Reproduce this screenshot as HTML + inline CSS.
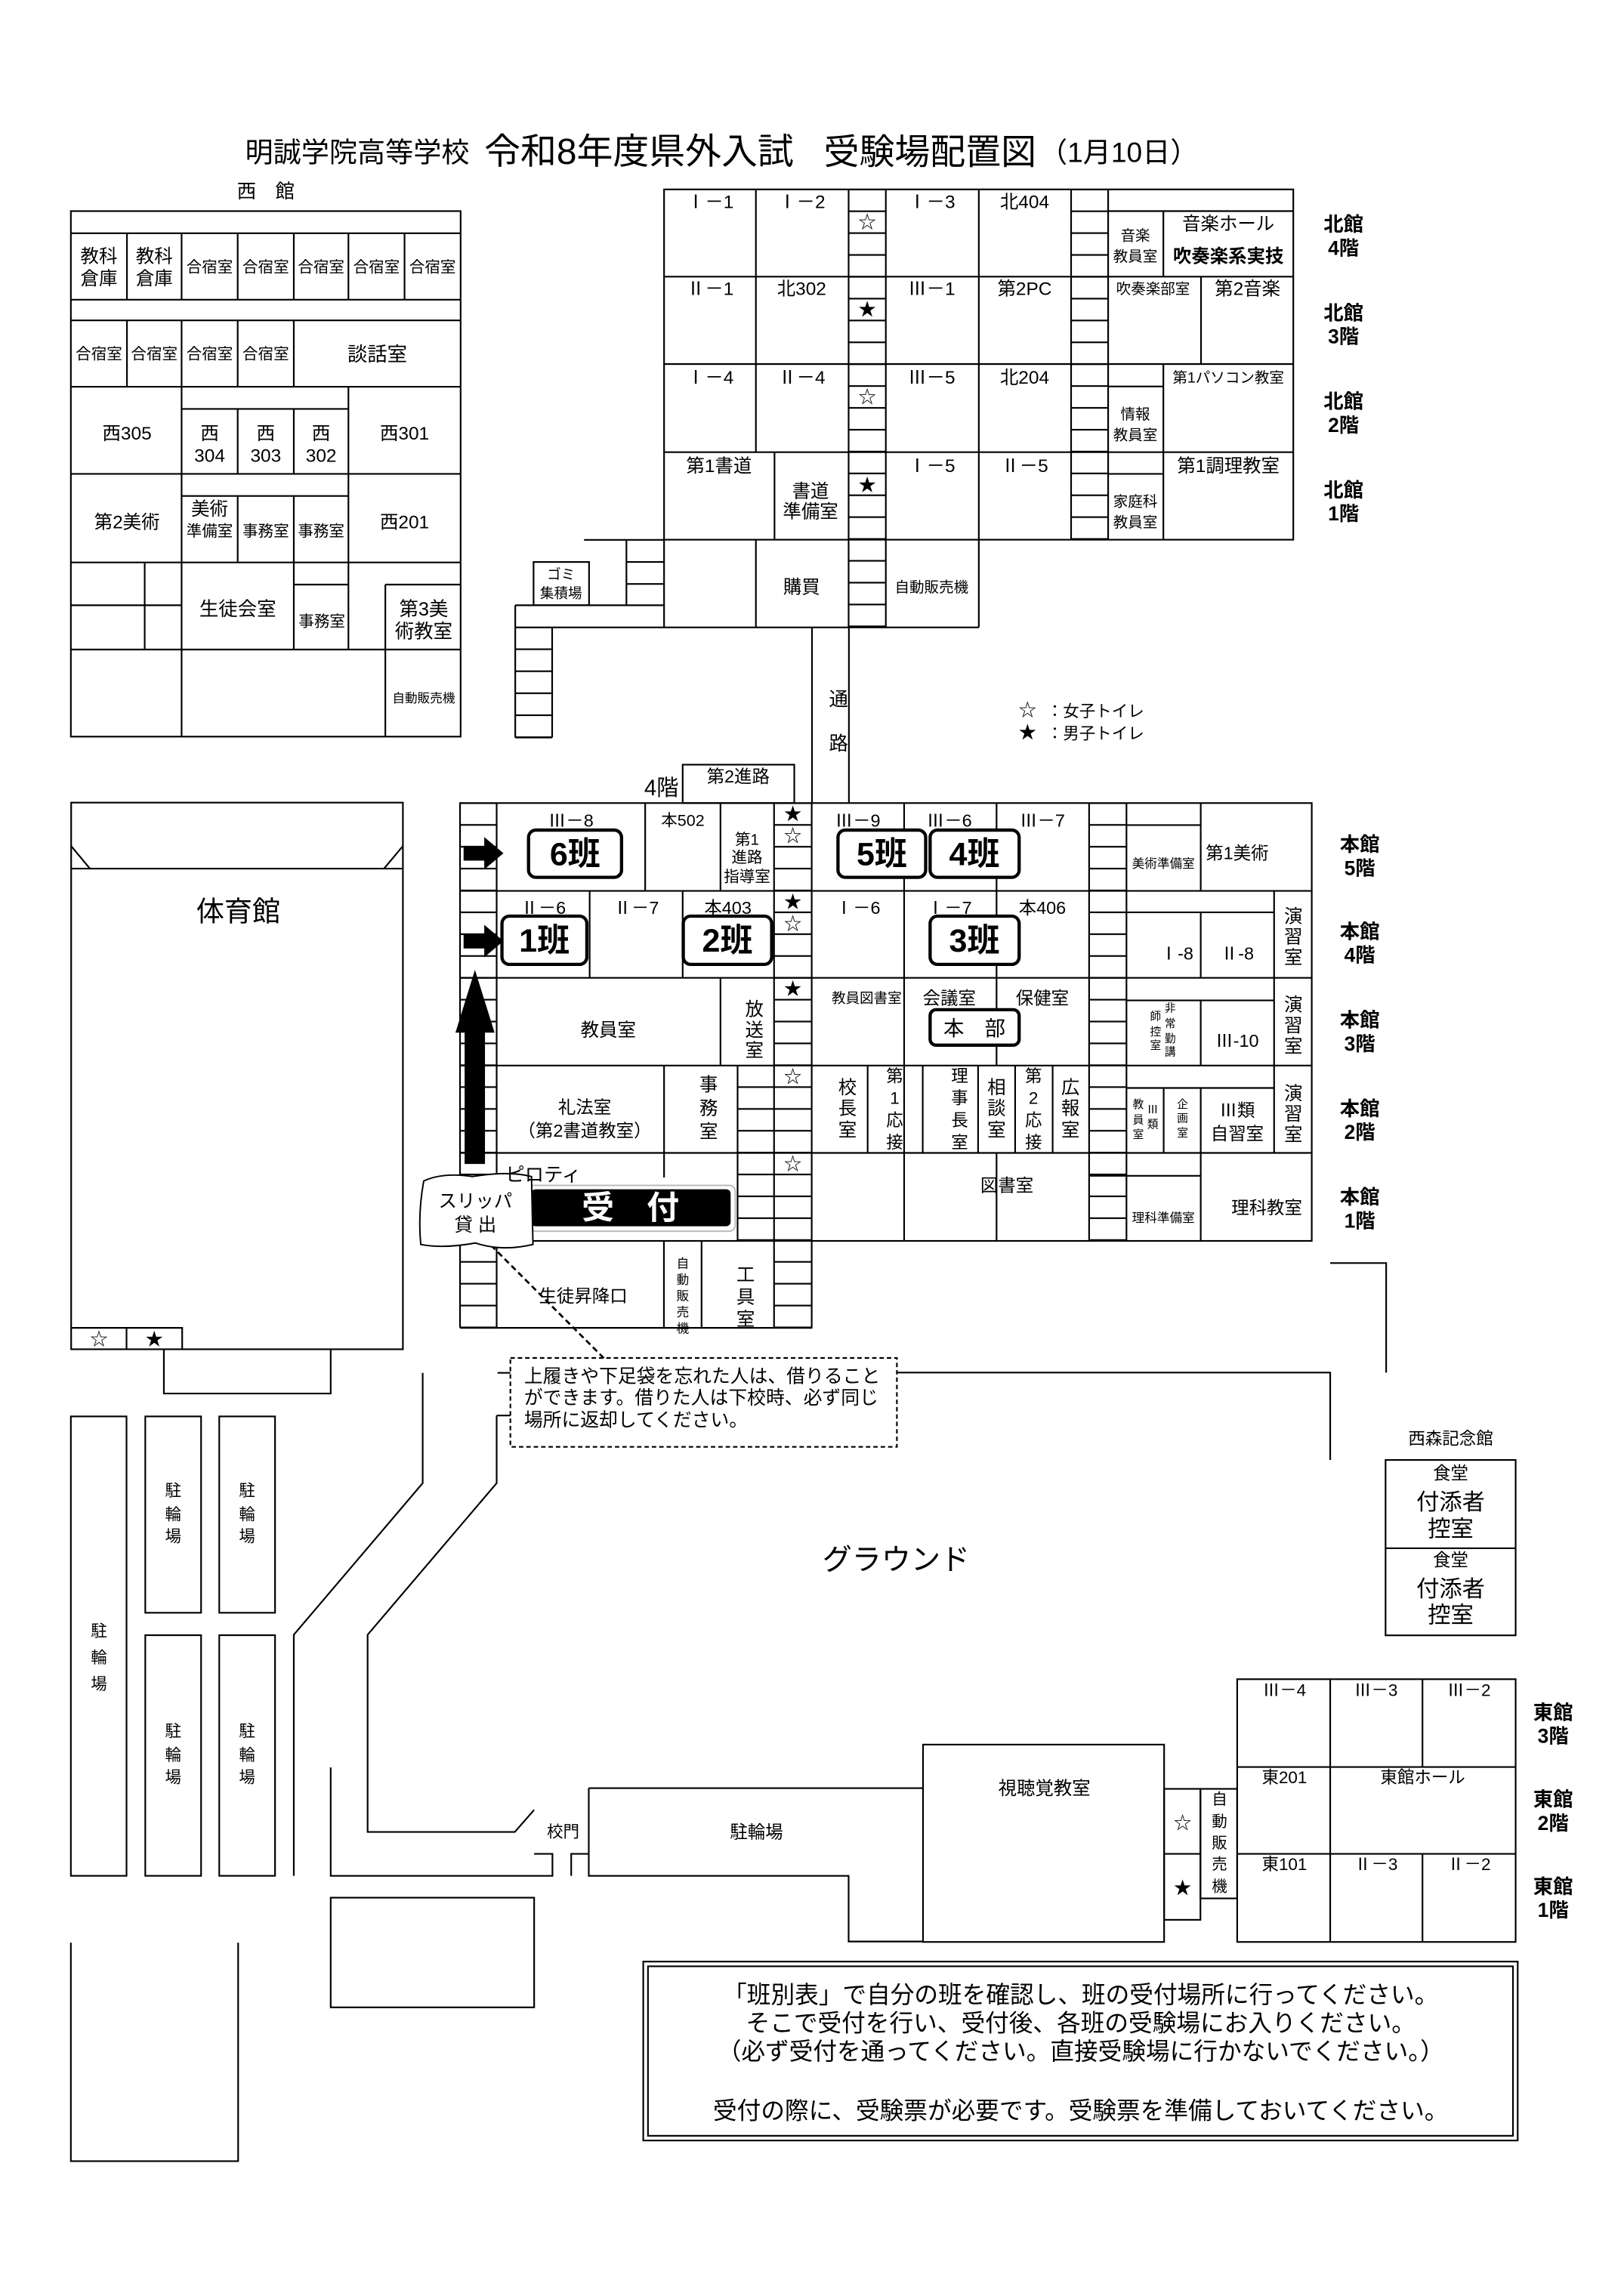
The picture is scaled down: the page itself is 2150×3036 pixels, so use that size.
<!DOCTYPE html>
<html><head><meta charset="utf-8"><style>
html,body{margin:0;padding:0;background:#fff}
svg{display:block}
.t{font-family:"Liberation Sans","Noto Sans CJK JP",sans-serif;text-anchor:middle;dominant-baseline:central;fill:#000}
.l{font-family:"Liberation Sans","Noto Sans CJK JP",sans-serif;dominant-baseline:central;fill:#000}
.b{font-weight:bold}
</style></head><body>
<svg width="2150" height="3036" viewBox="0 0 1100 1553.3" xmlns="http://www.w3.org/2000/svg">
<defs>
<pattern id="pn" patternUnits="userSpaceOnUse" x="0" y="128.3" width="50" height="14.8"><rect x="0" y="-0.55" width="50" height="1.1" fill="#000"/><rect x="0" y="14.25" width="50" height="1.1" fill="#000"/></pattern>
<pattern id="pm" patternUnits="userSpaceOnUse" x="0" y="544" width="50" height="14.8"><rect x="0" y="-0.55" width="50" height="1.1" fill="#000"/><rect x="0" y="14.25" width="50" height="1.1" fill="#000"/></pattern>
<pattern id="pl" patternUnits="userSpaceOnUse" x="0" y="410" width="50" height="14.9"><rect x="0" y="-0.55" width="50" height="1.1" fill="#000"/><rect x="0" y="14.35" width="50" height="1.1" fill="#000"/></pattern>
<marker id="ah" markerWidth="8" markerHeight="8" refX="6" refY="4" orient="auto" markerUnits="userSpaceOnUse"><path d="M0,0 L7,4 L0,8" fill="none" stroke="#000" stroke-width="1.2"/></marker>
</defs>
<rect width="1100" height="1553.3" fill="#fff"/>

<rect x="574.8" y="128.3" width="25.2" height="296.7" fill="url(#pn)"/>
<rect x="725.5" y="128.3" width="25.1" height="237.3" fill="url(#pn)"/>
<rect x="311.6" y="544" width="24.8" height="355.5" fill="url(#pm)"/>
<rect x="524.3" y="544" width="25.5" height="355.5" fill="url(#pm)"/>
<rect x="499.6" y="721.8" width="24.7" height="118.8" fill="url(#pm)"/>
<rect x="737.7" y="544" width="25.3" height="296.6" fill="url(#pm)"/>
<rect x="349" y="425" width="25" height="74.6" fill="url(#pl)"/>

<g fill="none" stroke="#000" stroke-width="1.1">
<rect x="48" y="143" width="264" height="356"/>
<path d="M48 158H312M48 203H312M48 217H312M48 262H312M48 321H312M48 381H312M48 440H312"/>
<path d="M86 158V203M123 158V203M161 158V203M199 158V203M236 158V203M274 158V203"/>
<path d="M86 217V262M123 217V262M161 217V262M199 217V262"/>
<path d="M123 262V381M236 262V381M123 277H236M161 277V321M199 277V321M123 336H236M161 336V381M199 336V381"/>
<path d="M98 381V440M123 381V499M199 381V440M236 381V440M261 396V499M48 410H123M199 396H236M261 396H312"/>

<rect x="449.8" y="128.3" width="426.2" height="237.3"/>
<path d="M449.8 187.4H876M449.8 246.6H876M449.8 306.3H876"/>
<path d="M512 128.3V306.3M524.6 306.3V365.6M574.8 128.3V425M600 128.3V425M663 128.3V425M725.5 128.3V365.6M750.6 128.3V365.6"/>
<path d="M750.6 143H876M788 143V187.4M813.5 187.4V246.6M750.6 261.8H788M788 246.6V365.6M750.6 321H788"/>
<path d="M449.8 365.6V425M512 365.6V425M349 425H663"/>
<path d="M395.6 365.7H449.8M424.3 365.7V410M424.3 380.7H449.8M424.3 395.6H449.8M349 410H449.8M349 410V499.6M374 425V499.6M349 499.6H374"/>
<rect x="361.4" y="380.7" width="37.6" height="29.3"/>
<path d="M550 425V544M575 425V544"/>
<rect x="462.4" y="518" width="75.6" height="26"/>

<rect x="311.6" y="544" width="576.9" height="296.6"/>
<path d="M311.6 603.5H888.5M311.6 662.4H888.5M311.6 721.8H888.5M311.6 781H888.5"/>
<path d="M336.4 544V899.5M311.6 840.6V899.5M311.6 899.5H550.2M449.7 840.6V899.5M475.2 840.6V899.5M524.3 544V899.5M549.8 544V899.5"/>
<path d="M437 544V603.5M488 544V603.5M488 662.4V721.8M399.4 603.5V662.4M462.4 603.5V662.4"/>
<path d="M612.4 544V840.6M675 544V721.8M675 781V840.6M737.7 544V840.6M763 544V840.6"/>
<path d="M813.3 544V603.5M813.3 618V662.4M813.3 677.7V721.8M813.3 737V840.6M863 603.5V781"/>
<path d="M763 558.9H813.3M763 618H863M763 677.7H863M763 737H863M737.7 796.5H813.3"/>
<path d="M449.8 721.8V797.6M499.6 721.8V840.6M587.7 721.8V781M625 721.8V781M662.5 721.8V781M687.6 721.8V781M713 721.8V781M788.2 737V781"/>
<path d="M901 855.6H938.9V929.8"/>
<path d="M607.5 929.8H901V989"/>

<rect x="48.2" y="543.7" width="224.7" height="370.3"/>
<path d="M48.2 588.4H272.9M48.2 573.1L60.9 588.4M272.9 573.1L260.1 588.4"/>
<path d="M48.2 899.5H123.4V914M85.7 899.5V914"/>
<path d="M111 914V944H224V914"/>

<rect x="48" y="959.5" width="37.7" height="311.2"/>
<rect x="98.4" y="959.5" width="37.8" height="133"/>
<rect x="148.5" y="959.5" width="37.8" height="133"/>
<rect x="98.4" y="1107.7" width="37.8" height="163"/>
<rect x="148.5" y="1107.7" width="37.8" height="163"/>
<path d="M48 1316V1464H161.3V1316"/>

<path d="M286.3 930V1004.7L199 1107.4V1270.7"/>
<path d="M336.4 958.9V1004.7L249 1107.4V1241H348.7L361.8 1226"/>
<path d="M337 930H345.7M336.4 958.9H345.7"/>
<path d="M224 1197.3V1270.7H374.2V1255.8H361.8"/>
<path d="M386.9 1270.7V1255.8H398.8M398.8 1211.3V1270.7H574.8V1315.2H625.2M398.8 1211.3H625.2"/>
<rect x="224" y="1285.5" width="137.8" height="74.3"/>

<rect x="625.2" y="1181.8" width="163.3" height="133.7"/>
<rect x="788.5" y="1211.8" width="24.6" height="88.7"/>
<path d="M788.5 1255.8H813.1"/>
<rect x="813.1" y="1211.8" width="24.9" height="74.2"/>
<rect x="838" y="1137.5" width="188.6" height="178"/>
<path d="M838 1197H1026.6M838 1255.8H1026.6M901 1137.5V1315.5M963.5 1137.5V1197M963.5 1255.8V1315.5"/>
<rect x="938.5" y="989" width="88.1" height="118.8"/>
<path d="M938.5 1048.8H1026.6"/>

<rect x="435.7" y="1328.8" width="592.3" height="121.2"/>
<rect x="438.9" y="1332" width="585.9" height="114.8"/>

<rect x="345.7" y="919.9" width="261.8" height="60.2" stroke-dasharray="3,2"/>
<path d="M409 920L325 836" stroke-dasharray="4,2.5" stroke-width="1.4" marker-end="url(#ah)"/>
</g>

<g fill="#000">
<rect x="314" y="573" width="15" height="10"/><polygon points="328,567 341,578 328,589"/>
<rect x="314" y="632.5" width="15" height="10"/><polygon points="328,626.5 341,637.5 328,648.5"/>
<polygon points="321.7,657 335,699.5 328.5,699.5 328.5,788.5 314.7,788.5 314.7,699.5 308.5,699.5"/>
</g>

<g fill="#fff" stroke="#000" stroke-width="2.2">
<rect x="358" y="562.3" width="63" height="32" rx="5"/>
<rect x="567.6" y="562.3" width="59.4" height="32" rx="5"/>
<rect x="630" y="562.3" width="60.3" height="32" rx="5"/>
<rect x="340" y="620.6" width="57.5" height="32.7" rx="5"/>
<rect x="462.8" y="620.6" width="59.9" height="32.7" rx="5"/>
<rect x="630" y="620.6" width="60.3" height="32.7" rx="5"/>
<rect x="630" y="684" width="60.3" height="24" rx="4"/>
</g>
<rect x="357" y="803" width="141" height="31" rx="4" fill="#fff" stroke="#bbb" stroke-width="1"/>
<rect x="359.8" y="805.6" width="135.1" height="25.1" rx="3" fill="#000"/>
<path d="M287 800Q300 794 320 797Q345 793 360 797L361 843Q340 848 322 842Q300 846 285 843Q283 822 287 800Z" fill="#fff" stroke="#000" stroke-width="1"/>

<g>
<text class="l" x="166" y="103" font-size="19">明誠学院高等学校</text>
<text class="l" x="328" y="103" font-size="24.5">令和8年度県外入試</text>
<text class="l" x="558" y="103" font-size="24">受験場配置図</text>
<text class="l" x="704" y="103" font-size="19">（1月10日）</text>
<text class="t" x="180" y="130" font-size="13">西　館</text>

<g font-size="12.5">
<text class="t" x="67" y="174">教科</text><text class="t" x="67" y="189">倉庫</text>
<text class="t" x="104.5" y="174">教科</text><text class="t" x="104.5" y="189">倉庫</text>
</g>
<g font-size="10.5">
<text class="t" x="142" y="181">合宿室</text><text class="t" x="180" y="181">合宿室</text><text class="t" x="217.5" y="181">合宿室</text><text class="t" x="255" y="181">合宿室</text><text class="t" x="293" y="181">合宿室</text>
<text class="t" x="67" y="240">合宿室</text><text class="t" x="104.5" y="240">合宿室</text><text class="t" x="142" y="240">合宿室</text><text class="t" x="180" y="240">合宿室</text>
<text class="t" x="142" y="360">準備室</text><text class="t" x="180" y="360">事務室</text><text class="t" x="217.5" y="360">事務室</text>
<text class="t" x="218" y="421">事務室</text>
</g>
<g font-size="12.5">
<text class="t" x="255.5" y="240" font-size="13.5">談話室</text>
<text class="t" x="86" y="294">西305</text>
<text class="t" x="142" y="294">西</text><text class="t" x="142" y="309">304</text>
<text class="t" x="180" y="294">西</text><text class="t" x="180" y="309">303</text>
<text class="t" x="217.5" y="294">西</text><text class="t" x="217.5" y="309">302</text>
<text class="t" x="274" y="294">西301</text>
<text class="t" x="86" y="354">第2美術</text>
<text class="t" x="142" y="345">美術</text>
<text class="t" x="274" y="354">西201</text>
<text class="t" x="161" y="413" font-size="13">生徒会室</text>
<text class="t" x="287" y="413" font-size="13">第3美</text><text class="t" x="287" y="428" font-size="13">術教室</text>
</g>
<text class="t" x="287" y="473" font-size="8.5">自動販売機</text>

<g font-size="12.5">
<text class="t" x="481" y="137">Ⅰ－1</text><text class="t" x="543" y="137">Ⅰ－2</text><text class="t" x="631" y="137">Ⅰ－3</text><text class="t" x="694" y="137">北404</text>
<text class="t" x="481" y="196">Ⅱ－1</text><text class="t" x="543" y="196">北302</text><text class="t" x="631" y="196">Ⅲ－1</text><text class="t" x="694" y="196">第2PC</text>
<text class="t" x="481" y="256">Ⅰ－4</text><text class="t" x="543" y="256">Ⅱ－4</text><text class="t" x="631" y="256">Ⅲ－5</text><text class="t" x="694" y="256">北204</text>
<text class="t" x="487" y="316">第1書道</text><text class="t" x="631" y="316">Ⅰ－5</text><text class="t" x="694" y="316">Ⅱ－5</text>
<text class="t" x="549" y="333">書道</text><text class="t" x="549" y="347">準備室</text>
<text class="t" x="543" y="398">購買</text>
<text class="t" x="832" y="152">音楽ホール</text>
<text class="t b" x="832" y="174">吹奏楽系実技</text>
<text class="t" x="845" y="196">第2音楽</text>
<text class="t" x="832" y="316">第1調理教室</text>
</g>
<g font-size="10">
<text class="t" x="769" y="160">音楽</text><text class="t" x="769" y="174">教員室</text>
<text class="t" x="781" y="196">吹奏楽部室</text>
<text class="t" x="832" y="256">第1パソコン教室</text>
<text class="t" x="769" y="281">情報</text><text class="t" x="769" y="295">教員室</text>
<text class="t" x="769" y="340">家庭科</text><text class="t" x="769" y="354">教員室</text>
<text class="t" x="631" y="398">自動販売機</text>
</g>
<g font-size="12">
<text class="t" x="587.4" y="150.5">☆</text><text class="t" x="587.4" y="209.6">★</text><text class="t" x="587.4" y="268.8">☆</text><text class="t" x="587.4" y="328.5">★</text>
</g>
<text class="t" x="380" y="389" font-size="9.5">ゴミ</text><text class="t" x="380" y="402" font-size="9.5">集積場</text>
<text class="t" x="568" y="474" font-size="13">通</text><text class="t" x="568" y="504" font-size="13">路</text>
<text class="t" x="696" y="481" font-size="12">☆</text><text class="l" x="709" y="482" font-size="11">：女子トイレ</text>
<text class="t" x="696" y="496" font-size="12">★</text><text class="l" x="709" y="497" font-size="11">：男子トイレ</text>
<text class="t" x="448" y="534" font-size="15">4階</text>
<text class="t" x="500" y="526" font-size="12">第2進路</text>

<g font-size="13.5">
<text class="t b" x="910" y="152">北館</text><text class="t b" x="910" y="168">4階</text>
<text class="t b" x="910" y="212">北館</text><text class="t b" x="910" y="228">3階</text>
<text class="t b" x="910" y="272">北館</text><text class="t b" x="910" y="288">2階</text>
<text class="t b" x="910" y="332">北館</text><text class="t b" x="910" y="348">1階</text>
<text class="t b" x="921" y="572">本館</text><text class="t b" x="921" y="588">5階</text>
<text class="t b" x="921" y="631">本館</text><text class="t b" x="921" y="647">4階</text>
<text class="t b" x="921" y="691">本館</text><text class="t b" x="921" y="707">3階</text>
<text class="t b" x="921" y="751">本館</text><text class="t b" x="921" y="767">2階</text>
<text class="t b" x="921" y="811">本館</text><text class="t b" x="921" y="827">1階</text>
<text class="t b" x="1052" y="1160">東館</text><text class="t b" x="1052" y="1176">3階</text>
<text class="t b" x="1052" y="1219">東館</text><text class="t b" x="1052" y="1235">2階</text>
<text class="t b" x="1052" y="1278">東館</text><text class="t b" x="1052" y="1294">1階</text>
</g>

<g font-size="12">
<text class="t" x="386.7" y="556">Ⅲ－8</text><text class="t" x="462.5" y="556" font-size="11">本502</text>
<text class="t" x="581" y="556">Ⅲ－9</text><text class="t" x="643" y="556">Ⅲ－6</text><text class="t" x="706" y="556">Ⅲ－7</text>
<text class="t" x="838" y="578">第1美術</text>
<text class="t" x="368" y="615">Ⅱ－6</text><text class="t" x="431" y="615">Ⅱ－7</text><text class="t" x="493" y="615">本403</text>
<text class="t" x="581" y="615">Ⅰ－6</text><text class="t" x="643" y="615">Ⅰ－7</text><text class="t" x="706" y="615">本406</text>
<text class="t" x="797" y="646">Ⅰ-8</text><text class="t" x="838" y="646">Ⅱ-8</text>
<text class="t" x="412" y="698" font-size="12.5">教員室</text>
<text class="t" x="643" y="676">会議室</text><text class="t" x="706" y="676">保健室</text>
<text class="t" x="838" y="705">Ⅲ-10</text>
<text class="t" x="396" y="750">礼法室</text><text class="t" x="396" y="766">（第2書道教室）</text>
<text class="t" x="838" y="752">Ⅲ類</text><text class="t" x="838" y="768">自習室</text>
<text class="t" x="368" y="796" font-size="13">ピロティ</text>
<text class="t" x="682" y="803">図書室</text><text class="t" x="858" y="818">理科教室</text>
<text class="t" x="395" y="878">生徒昇降口</text>
</g>
<g font-size="10.5">
<text class="t" x="506" y="569">第1</text><text class="t" x="506" y="581">進路</text><text class="t" x="506" y="594">指導室</text>
</g>
<text class="t" x="788" y="585" font-size="8.5">美術準備室</text>
<text class="t" x="788" y="825" font-size="8.5">理科準備室</text>
<text class="t" x="587" y="676" font-size="9.5">教員図書室</text>
<g font-size="12.5">
<text class="t" x="511" y="684">放</text><text class="t" x="511" y="698">送</text><text class="t" x="511" y="712">室</text>
<text class="t" x="876" y="621">演</text><text class="t" x="876" y="635">習</text><text class="t" x="876" y="649">室</text>
<text class="t" x="876" y="681">演</text><text class="t" x="876" y="695">習</text><text class="t" x="876" y="709">室</text>
<text class="t" x="876" y="741">演</text><text class="t" x="876" y="755">習</text><text class="t" x="876" y="769">室</text>
<text class="t" x="480" y="735">事</text><text class="t" x="480" y="751">務</text><text class="t" x="480" y="767">室</text>
<text class="t" x="574" y="737">校</text><text class="t" x="574" y="751">長</text><text class="t" x="574" y="766">室</text>
<text class="t" x="675" y="737">相</text><text class="t" x="675" y="751">談</text><text class="t" x="675" y="766">室</text>
<text class="t" x="725" y="737">広</text><text class="t" x="725" y="751">報</text><text class="t" x="725" y="766">室</text>
<text class="t" x="505" y="864">工</text><text class="t" x="505" y="879">具</text><text class="t" x="505" y="894">室</text>
</g>
<g font-size="11.5">
<text class="t" x="606" y="729">第</text><text class="t" x="606" y="744">1</text><text class="t" x="606" y="759">応</text><text class="t" x="606" y="774">接</text>
<text class="t" x="650" y="729">理</text><text class="t" x="650" y="744">事</text><text class="t" x="650" y="759">長</text><text class="t" x="650" y="774">室</text>
<text class="t" x="700" y="729">第</text><text class="t" x="700" y="744">2</text><text class="t" x="700" y="759">応</text><text class="t" x="700" y="774">接</text>
</g>
<g font-size="7.5">
<text class="t" x="792.6" y="683.4">非</text><text class="t" x="792.6" y="693.7">常</text><text class="t" x="792.6" y="704">勤</text><text class="t" x="792.6" y="713">講</text>
<text class="t" x="782.7" y="689">師</text><text class="t" x="782.7" y="699.4">控</text><text class="t" x="782.7" y="708.5">室</text>
<text class="t" x="771" y="748.6">教</text><text class="t" x="771" y="759">員</text><text class="t" x="771" y="769">室</text>
<text class="t" x="780.8" y="752">Ⅲ</text><text class="t" x="780.8" y="762">類</text>
<text class="t" x="801" y="748.6">企</text><text class="t" x="801" y="758">画</text><text class="t" x="801" y="768">室</text>
</g>
<g font-size="8.5">
<text class="t" x="462.5" y="856">自</text><text class="t" x="462.5" y="867">動</text><text class="t" x="462.5" y="878">販</text><text class="t" x="462.5" y="889">売</text><text class="t" x="462.5" y="900">機</text>
</g>
<g font-size="12">
<text class="t" x="537" y="551.4">★</text><text class="t" x="537" y="566.2">☆</text>
<text class="t" x="537" y="610.9">★</text><text class="t" x="537" y="625.7">☆</text>
<text class="t" x="537" y="669.8">★</text>
<text class="t" x="537" y="729.2">☆</text>
<text class="t" x="537" y="788.4">☆</text>
<text class="t" x="67" y="907">☆</text><text class="t" x="104.5" y="907">★</text>
<text class="t" x="801" y="1234.7">☆</text><text class="t" x="801" y="1278.7">★</text>
</g>
<g font-size="22">
<text class="t b" x="389.5" y="579">6班</text>
<text class="t b" x="597.3" y="579">5班</text>
<text class="t b" x="660" y="579">4班</text>
<text class="t b" x="368.7" y="637.5">1班</text>
<text class="t b" x="492.7" y="637.5">2班</text>
<text class="t b" x="660" y="637.5">3班</text>
</g>
<text class="t" x="660" y="696.5" font-size="14">本　部</text>
<text class="t b" x="427" y="818.5" font-size="22" style="fill:#fff">受　付</text>
<text class="t" x="322" y="814" font-size="12.5">スリッパ</text>
<text class="t" x="322" y="830" font-size="12.5">貸 出</text>

<text class="t" x="161.4" y="617.4" font-size="19">体育館</text>
<g font-size="11">
<text class="t" x="67" y="1105">駐</text><text class="t" x="67" y="1123">輪</text><text class="t" x="67" y="1141">場</text>
<text class="t" x="117.3" y="1010">駐</text><text class="t" x="117.3" y="1026">輪</text><text class="t" x="117.3" y="1041">場</text>
<text class="t" x="167.4" y="1010">駐</text><text class="t" x="167.4" y="1026">輪</text><text class="t" x="167.4" y="1041">場</text>
<text class="t" x="117.3" y="1173">駐</text><text class="t" x="117.3" y="1189">輪</text><text class="t" x="117.3" y="1204">場</text>
<text class="t" x="167.4" y="1173">駐</text><text class="t" x="167.4" y="1189">輪</text><text class="t" x="167.4" y="1204">場</text>
<text class="t" x="381.4" y="1241">校門</text>
<text class="t" x="512.4" y="1241" font-size="12">駐輪場</text>
</g>
<g font-size="12.7">
<text class="l" x="355" y="932.6">上履きや下足袋を忘れた人は、借りること</text>
<text class="l" x="355" y="947.4">ができます。借りた人は下校時、必ず同じ</text>
<text class="l" x="355" y="962.3">場所に返却してください。</text>
</g>
<text class="t" x="607" y="1057" font-size="20">グラウンド</text>

<text class="t" x="982.6" y="974.7" font-size="11.5">西森記念館</text>
<g font-size="12"><text class="t" x="982.6" y="998">食堂</text><text class="t" x="982.6" y="1056.7">食堂</text></g>
<g font-size="15.5">
<text class="t" x="982.6" y="1018">付添者</text><text class="t" x="982.6" y="1036">控室</text>
<text class="t" x="982.6" y="1076.7">付添者</text><text class="t" x="982.6" y="1094.3">控室</text>
</g>
<g font-size="11.5">
<text class="t" x="870" y="1145">Ⅲ－4</text><text class="t" x="932" y="1145">Ⅲ－3</text><text class="t" x="995" y="1145">Ⅲ－2</text>
<text class="t" x="870" y="1204">東201</text><text class="t" x="963.7" y="1204">東館ホール</text>
<text class="t" x="870" y="1263">東101</text><text class="t" x="932" y="1263">Ⅱ－3</text><text class="t" x="995" y="1263">Ⅱ－2</text>
<text class="t" x="707.4" y="1211.8" font-size="12.5">視聴覚教室</text>
</g>
<g font-size="10.5">
<text class="t" x="826" y="1219">自</text><text class="t" x="826" y="1234">動</text><text class="t" x="826" y="1248.5">販</text><text class="t" x="826" y="1263">売</text><text class="t" x="826" y="1278">機</text>
</g>

<g font-size="16.2">
<text class="t" x="732" y="1351.3">「班別表」で自分の班を確認し、班の受付場所に行ってください。</text>
<text class="t" x="732" y="1370.4">そこで受付を行い、受付後、各班の受験場にお入りください。</text>
<text class="t" x="732" y="1389.5">（必ず受付を通ってください。直接受験場に行かないでください。）</text>
<text class="t" x="732" y="1429.8">受付の際に、受験票が必要です。受験票を準備しておいてください。</text>
</g>
</g>
</svg>
</body></html>
